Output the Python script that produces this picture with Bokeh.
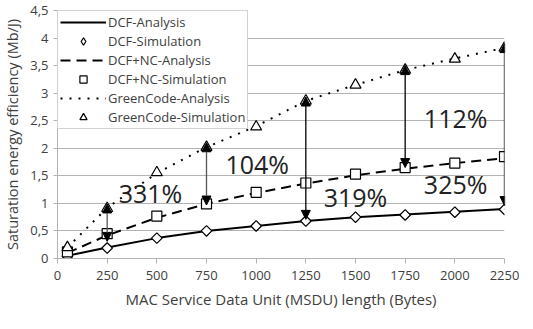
import numpy as np
from bokeh.plotting import figure
from bokeh.models import (Range1d, FixedTicker, Legend, LegendItem, Arrow, NormalHead,
                          ColumnDataSource, CustomJSTickFormatter)
from bokeh.core.properties import value
from bokeh.embed import file_html
from bokeh.resources import INLINE

# ---------------- data ----------------
msdu = [50, 250, 500, 750, 1000, 1250, 1500, 1750, 2000, 2250]

dcf_analysis = [0.05, 0.20, 0.37, 0.50, 0.59, 0.68, 0.75, 0.80, 0.85, 0.90]
dcf_simulation = [0.04, 0.19, 0.37, 0.50, 0.59, 0.68, 0.75, 0.79, 0.84, 0.89]

nc_analysis = [0.10, 0.42, 0.74, 0.99, 1.19, 1.36, 1.51, 1.63, 1.73, 1.82]
nc_simulation = [0.12, 0.45, 0.77, 0.99, 1.20, 1.37, 1.53, 1.65, 1.73, 1.85]

gc_analysis = [0.20, 0.92, 1.55, 2.02, 2.40, 2.86, 3.15, 3.42, 3.63, 3.82]
gc_simulation = [0.20, 0.91, 1.56, 2.02, 2.39, 2.86, 3.15, 3.42, 3.62, 3.82]

# gain arrows (between schemes) and their annotations
arrow_x = [250, 750, 1250, 1750, 2250]
arrow_top = [0.99, 2.10, 2.93, 3.50, 3.90]
arrow_bottom = [0.31, 0.97, 0.71, 1.65, 0.96]
arrow_color = ["#555555", "#555555", "#000000", "#000000", "#000000"]

gain_text = ["331%", "104%", "319%", "112%", "325%"]
gain_x = [468, 1005, 1500, 2004, 2004]
gain_y = [1.18, 1.72, 1.12, 2.55, 1.35]

x_ticks = [0, 250, 500, 750, 1000, 1250, 1500, 1750, 2000, 2250]
y_ticks = [0, 0.5, 1, 1.5, 2, 2.5, 3, 3.5, 4, 4.5]

FONT = "Open Sans"
TXT = "#404040"
GRID = "#b3b3b3"

p = figure(output_backend="svg", toolbar_location=None,
           frame_width=447, frame_height=248,
           min_border_left=55, min_border_right=15, min_border_top=10, min_border_bottom=55,
           x_range=Range1d(0, 2250), y_range=Range1d(0, 4.5))
p.outline_line_color = None
p.background_fill_color = "white"
p.border_fill_color = "white"

# axes
p.xaxis.ticker = FixedTicker(ticks=x_ticks)
p.yaxis.ticker = FixedTicker(ticks=y_ticks)
p.yaxis.formatter = CustomJSTickFormatter(code="return tick.toString().replace('.', ',');")
for ax in (p.xaxis[0], p.yaxis[0]):
    ax.axis_line_color = GRID
    ax.major_tick_line_color = GRID
    ax.minor_tick_line_color = None
    ax.major_tick_in = 0
    ax.major_label_text_font = FONT
    ax.major_label_text_font_size = "13px"
    ax.major_label_text_color = TXT
    ax.axis_label_text_font = FONT
    ax.axis_label_text_font_style = "normal"
    ax.axis_label_text_color = TXT
p.xaxis.axis_label_text_font_size = "15px"
p.yaxis.axis_label_text_font_size = "14.5px"
p.xaxis.major_tick_out = 5
p.yaxis.major_tick_out = 4
p.xaxis.major_label_standoff = 7
p.yaxis.major_label_standoff = 5
p.xaxis.axis_label = "MAC Service Data Unit (MSDU) length (Bytes)"
p.yaxis.axis_label = "Saturation energy efficiency (Mb/J)"
p.xaxis.axis_label_standoff = 6
p.yaxis.axis_label_standoff = 5

p.xgrid.grid_line_color = None
p.ygrid.grid_line_color = GRID
p.ygrid.grid_line_width = 1

# lines
r_dcf_a = p.line(msdu, dcf_analysis, line_color="black", line_width=2)
r_nc_a = p.line(msdu, nc_analysis, line_color="black", line_width=2, line_dash="10 6")
r_gc_a = p.line(msdu, gc_analysis, line_color="black", line_width=2, line_dash="2 7")

# simulation markers
p.scatter(msdu, dcf_simulation, marker="square", angle=np.pi / 4, size=7.5,
          fill_color="white", line_color="black", line_width=1.2)
p.scatter(msdu, nc_simulation, marker="square", size=10,
          fill_color="white", line_color="black", line_width=1.2)
p.scatter(msdu, gc_simulation, marker="triangle", size=11,
          fill_color="white", line_color="black", line_width=1.2)

# smaller, hidden copies of the markers used only for the legend glyphs
l_dcf_s = p.scatter(msdu, dcf_simulation, marker="diamond", size=9, visible=False,
                    fill_color="white", line_color="black", line_width=1.2)
l_nc_s = p.scatter(msdu, nc_simulation, marker="square", size=7, visible=False,
                   fill_color="white", line_color="black", line_width=1.2)
l_gc_s = p.scatter(msdu, gc_simulation, marker="triangle", size=8, visible=False,
                   fill_color="white", line_color="black", line_width=1.2)

# arrows
for xa, yt, yb, c in zip(arrow_x, arrow_top, arrow_bottom, arrow_color):
    src = ColumnDataSource(dict(x0=[xa], y0=[yb], x1=[xa], y1=[yt]))
    p.add_layout(Arrow(x_start="x0", y_start="y0", x_end="x1", y_end="y1", source=src,
                       line_color=c, line_width=1.3,
                       start=NormalHead(size=9, fill_color="black", line_color="black"),
                       end=NormalHead(size=9, fill_color="black", line_color="black")))

# gain labels
p.text(x=gain_x, y=gain_y, text=gain_text, text_align="center", text_baseline="middle",
       text_font=value(FONT), text_font_size="25px", text_color="#222222")

legend = Legend(items=[
    LegendItem(label="DCF-Analysis", renderers=[r_dcf_a]),
    LegendItem(label="DCF-Simulation", renderers=[l_dcf_s]),
    LegendItem(label="DCF+NC-Analysis", renderers=[r_nc_a]),
    LegendItem(label="DCF+NC-Simulation", renderers=[l_nc_s]),
    LegendItem(label="GreenCode-Analysis", renderers=[r_gc_a]),
    LegendItem(label="GreenCode-Simulation", renderers=[l_gc_s]),
], location="top_left")
legend.margin = 0
legend.padding = 2
legend.spacing = 1
legend.glyph_width = 46
legend.glyph_height = 18
legend.label_height = 18
legend.label_standoff = 2
legend.label_text_font = FONT
legend.label_text_font_size = "13px"
legend.label_text_color = TXT
legend.border_line_color = "#a6a6a6"
legend.border_line_width = 1
legend.background_fill_color = "white"
legend.background_fill_alpha = 1.0
legend.inactive_fill_alpha = 0.0
p.add_layout(legend)

open("out.html", "w").write(file_html(p, INLINE))
